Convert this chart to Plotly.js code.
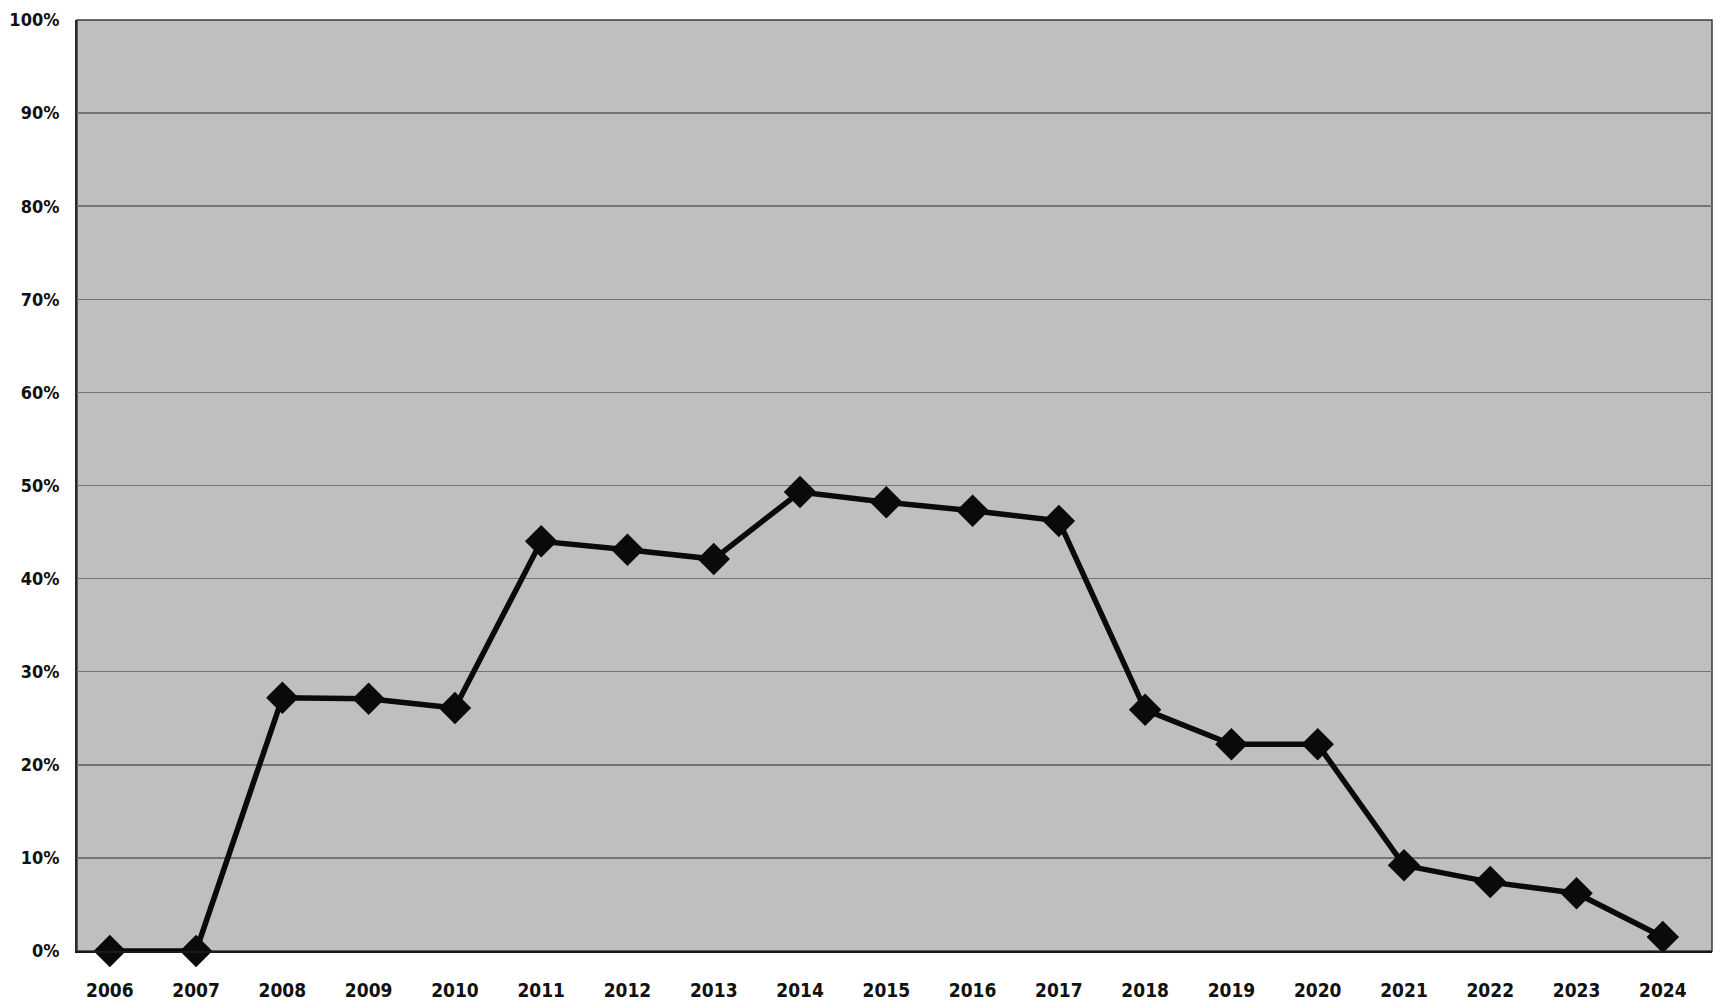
<!DOCTYPE html>
<html>
<head>
<meta charset="utf-8">
<script src="https://cdn.plot.ly/plotly-3.0.1.min.js"></script>
<style>
  html, body { margin: 0; padding: 0; background: #ffffff; }
  #chart { width: 1721px; height: 1008px; }
</style>
</head>
<body>
<div id="chart"></div>
<script>
const years = ["2006","2007","2008","2009","2010","2011","2012","2013","2014","2015",
               "2016","2017","2018","2019","2020","2021","2022","2023","2024"];
const shares = [0, 0, 27.2, 27.1, 26.1, 44.0, 43.1, 42.1, 49.3, 48.2,
                47.3, 46.2, 25.9, 22.2, 22.2, 9.2, 7.4, 6.2, 1.5];
const yTickValues = [0, 10, 20, 30, 40, 50, 60, 70, 80, 90, 100];
const yTickLabels = ["0%", "10%", "20%", "30%", "40%", "50%", "60%", "70%", "80%", "90%", "100%"];

const fontFamily = '"DejaVu Sans Condensed", "Liberation Sans Narrow", "Arial Narrow", "Liberation Sans", Arial, sans-serif';

const trace = {
  type: 'scatter',
  mode: 'lines+markers',
  x: years,
  y: shares,
  line: { color: '#0a0a0a', width: 5.5 },
  marker: { symbol: 'diamond', size: 25, color: '#0a0a0a', line: { width: 0 } },
  cliponaxis: false,
  hoverinfo: 'x+y'
};

const layout = {
  width: 1721,
  height: 1008,
  margin: { l: 77, r: 9, t: 20, b: 57 },
  paper_bgcolor: '#ffffff',
  plot_bgcolor: '#bfbfbf',
  showlegend: false,
  font: { family: fontFamily, size: 19, color: '#111111' },
  xaxis: {
    type: 'category',
    range: [-0.38, 18.57],
    showgrid: false,
    zeroline: false,
    showline: true,
    linecolor: '#1a1a1a',
    linewidth: 2,
    mirror: false,
    ticks: '',
    ticklabelstandoff: 21,
    tickfont: { family: fontFamily, size: 19, color: '#111111', weight: 'bold' },
    fixedrange: true
  },
  yaxis: {
    range: [0, 100],
    tickmode: 'array',
    tickvals: yTickValues,
    ticktext: yTickLabels,
    showgrid: true,
    gridcolor: '#747474',
    gridwidth: 1.5,
    zeroline: false,
    showline: true,
    linecolor: '#2a2a2a',
    linewidth: 2,
    ticks: '',
    ticklabelstandoff: 12,
    tickfont: { family: fontFamily, size: 18, color: '#111111', weight: 'bold' },
    fixedrange: true
  },
  shapes: [
    { type: 'rect', xref: 'paper', yref: 'paper', x0: 0, x1: 1, y0: 0, y1: 1,
      line: { color: '#3a3a3a', width: 1.5 }, fillcolor: 'rgba(0,0,0,0)', layer: 'below' }
  ]
};

Plotly.newPlot('chart', [trace], layout, { displayModeBar: false, staticPlot: true });
</script>
</body>
</html>
